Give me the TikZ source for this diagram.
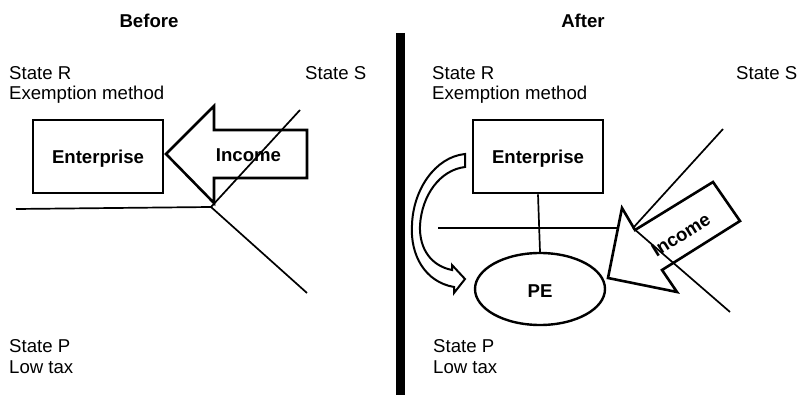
\documentclass[tikz,border=0pt]{standalone}
\usepackage{fontspec}
\setmainfont{Liberation Sans}
\usetikzlibrary{shapes.geometric}
\begin{document}
\begin{tikzpicture}[x=1pt,y=-1pt,
  txt/.style={inner sep=0pt,anchor=base west,font=\fontsize{18.6}{20}\selectfont},
  ttl/.style={inner sep=0pt,anchor=base,font=\fontsize{18.6}{20}\selectfont\bfseries},
  boxst/.style={draw,line width=2.7pt,minimum width=130pt,minimum height=73pt,inner sep=0pt,font=\fontsize{18.6}{20}\selectfont\bfseries},
  thin/.style={line width=1.7pt},
  arrowst/.style={draw,line width=2.6pt,line join=miter,fill=white},
  carrow/.style={draw,line width=2pt,line join=miter,fill=white}]
\useasboundingbox (0,0) rectangle (799,395);

% divider
\draw[line width=8.5pt] (400.5,33) coordinate (bartop) -- (400.5,395) coordinate (barbot);

% ---------- Before ----------
\node[ttl] (before) at (149,28) {Before};
\node[txt] (srA) at (9,80) {State R};
\node[txt] (exA) at (9,100) {Exemption method};
\node[txt] (ssA) at (305,80) {State S};
\node[txt] (spA) at (9,352) {State P};
\node[txt] (ltA) at (9,373) {Low tax};

\node[boxst] (entA) at (98,156.5) {};
\node[inner sep=0pt,anchor=base,font=\fontsize{18.6}{20}\selectfont\bfseries] (entAt) at (98,164) {Enterprise};

% border lines
\coordinate (mA) at (211,207);
\coordinate (hlA) at (16,209);
\coordinate (upA) at (300,110);
\coordinate (dnA) at (307,293);
\draw[thin] (hlA) -- (mA) -- (dnA);

% income arrow (before)
\draw[arrowst] (166,154) -- (214,106) -- (214,130) -- (307,130) -- (307,178) -- (214,178) -- (214,203) -- cycle;
\node[inner sep=0pt,anchor=base,font=\fontsize{18.6}{20}\selectfont\bfseries] (incA) at (248.5,162) {Income};
\draw[thin] (upA) -- (mA);

% ---------- After ----------
\node[ttl] (after) at (583,28) {After};
\node[txt] (srB) at (432,80) {State R};
\node[txt] (exB) at (432,100) {Exemption method};
\node[txt] (ssB) at (736,80) {State S};
\node[txt] (spB) at (433,352) {State P};
\node[txt] (ltB) at (433,373) {Low tax};

\node[boxst] (entB) at (538,156.5) {};
\node[inner sep=0pt,anchor=base,font=\fontsize{18.6}{20}\selectfont\bfseries] (entBt) at (538,164) {Enterprise};
\node[draw,ellipse,line width=2.4pt,minimum width=130pt,minimum height=72pt,inner sep=0pt] (pe) at (540,289) {};
\node[inner sep=0pt,anchor=base,font=\fontsize{18.6}{20}\selectfont\bfseries] (pet) at (540,297) {PE};
\draw[thin] (entB.south) -- (pe.north);

\coordinate (mB) at (633,228);
\coordinate (hlB) at (438,228);
\coordinate (upB) at (723,129);
\coordinate (dnB) at (730,312);
\draw[thin] (hlB) -- (mB) -- (upB);

% income arrow (after)
\draw[arrowst] (608,278) -- (622,208) -- (635,230) -- (713,182) -- (740,221) -- (662,270) -- (677,292) -- cycle;
\node[inner sep=0pt,anchor=center,rotate=32,font=\fontsize{18.6}{20}\selectfont\bfseries] (incB) at (681,235) {Income};
\draw[thin] (mB) -- (dnB);

% curved arrow
\draw[carrow] (465,154) -- (465,167)
  .. controls (440,170) and (422,195) .. (420,225)
  .. controls (419,250) and (432,266) .. (452,270)
  -- (452,265) -- (465,279) -- (454,293) -- (454,287)
  .. controls (425,282) and (410,255) .. (412,225)
  .. controls (413,190) and (435,157) .. cycle;
\end{tikzpicture}
\end{document}
